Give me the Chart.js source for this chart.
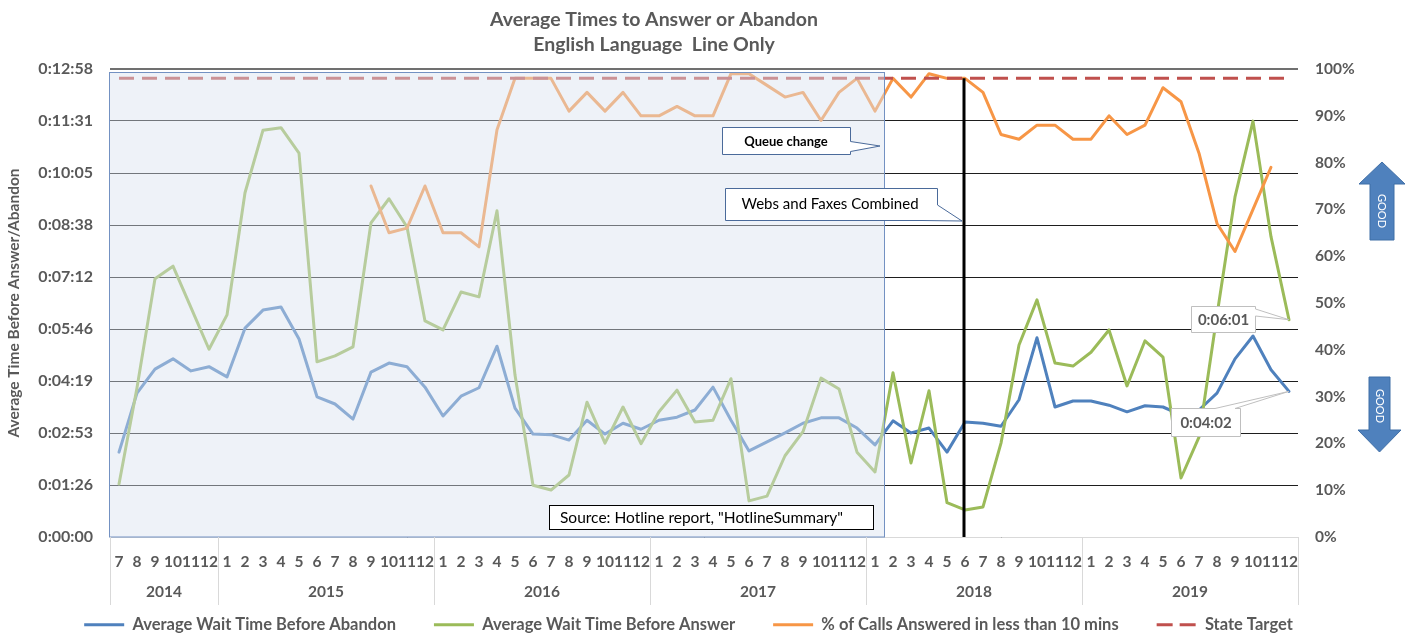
<!DOCTYPE html>
<html><head><meta charset="utf-8">
<script src="https://cdn.jsdelivr.net/npm/chart.js@4/dist/chart.umd.min.js"></script>
<style>html,body{margin:0;padding:0;background:#fff;}#wrap{width:1409px;height:637px;}</style>
</head><body><div id="wrap"><canvas id="c" width="1409" height="637"></canvas></div>
<script>
// ---------------- data ----------------
const monthLabels = ['7','8','9','10','11','12',
  '1','2','3','4','5','6','7','8','9','10','11','12',
  '1','2','3','4','5','6','7','8','9','10','11','12',
  '1','2','3','4','5','6','7','8','9','10','11','12',
  '1','2','3','4','5','6','7','8','9','10','11','12',
  '1','2','3','4','5','6','7','8','9','10','11','12'];
const yearLabels = ['2014','2015','2016','2017','2018','2019'];
const monthsPerYear = [6,12,12,12,12,12];

// seconds
const waitBeforeAbandon = [141,239,279,296,276,283,266,347,377,382,
  329,233,221,196,274,289,283,249,201,234,
  248,317,214,171,170,161,194,171,189,179,
  194,199,211,249,194,143,158,173,189,198,
  198,181,153,193,173,181,141,191,189,184,
  228,331,216,226,226,219,208,218,216,203,
  211,239,296,334,278,242];
const waitBeforeAnswer = [88,248,429,450,381,312,369,572,676,680,
  638,291,301,316,522,562,515,359,344,407,
  399,542,269,86,78,103,224,156,216,155,
  208,244,191,194,263,60,68,135,175,264,
  246,141,108,273,123,243,57,45,50,156,
  319,394,289,284,307,344,251,326,299,98,
  166,369,565,691,499,361];
// percent
const pctUnder10 = [null,null,null,null,null,null,null,null,null,null,
  null,null,null,null,75,65,66,75,65,65,
  62,87,98,98,98,91,95,91,95,90,
  90,92,90,90,99,99,96.5,94,95,89,
  95,98,91,98,94,99,98,98,95,86,
  85,88,88,85,85,90,86,88,96,93,
  82,67,61,70,79,null];
const stateTarget = [98,98,98,98,98,98,98,98,98,98,98,98,98,98,98,98,98,98,98,98,98,98,
  98,98,98,98,98,98,98,98,98,98,98,98,98,98,98,98,98,98,98,98,98,98,
  98,98,98,98,98,98,98,98,98,98,98,98,98,98,98,98,98,98,98,98,98,98];

const leftTicks = [0,86.4,172.8,259.2,345.6,432,518.4,604.8,691.2,777.6];
const titleLines = ['Average Times to Answer or Abandon','English Language  Line Only'];
const yTitle = 'Average Time Before Answer/Abandon';
const FONT = 'Lato';
const GREY = '#595959';

function fmtTime(s){
  s = Math.round(s);
  const h = Math.floor(s/3600), m = Math.floor((s%3600)/60), sec = s%60;
  return h + ':' + String(m).padStart(2,'0') + ':' + String(sec).padStart(2,'0');
}

function callout(ctx, pts, fill, stroke){
  ctx.beginPath();
  ctx.moveTo(pts[0][0], pts[0][1]);
  for (let i=1;i<pts.length;i++) ctx.lineTo(pts[i][0], pts[i][1]);
  ctx.closePath();
  ctx.fillStyle = fill; ctx.fill();
  ctx.strokeStyle = stroke; ctx.lineWidth = 1; ctx.stroke();
}

const decor = {
  id: 'decor',
  afterDatasetsDraw(chart){
    const {ctx, chartArea: ca, scales: {x, y, y1}} = chart;
    ctx.save();
    // shaded overlay box (older period)
    const xr = Math.round(x.getPixelForValue(42.5)) + 0.5;
    const bx = ca.left - 0.5, by = ca.top + 3.5;
    ctx.fillStyle = 'rgba(218,227,240,0.45)';
    ctx.fillRect(bx, by, xr - bx, ca.bottom - by);
    ctx.strokeStyle = '#7391c2'; ctx.lineWidth = 1;
    ctx.strokeRect(bx, by, xr - bx, ca.bottom - by);

    // vertical black line at 2018-6
    const xv = x.getPixelForValue(47) - 1;
    ctx.beginPath(); ctx.moveTo(xv, y1.getPixelForValue(98)); ctx.lineTo(xv, ca.bottom);
    ctx.strokeStyle = '#000'; ctx.lineWidth = 3; ctx.stroke();

    // callout: Queue change
    callout(ctx, [[722.5,127.5],[850.5,127.5],[850.5,141.5],[880,146],[850.5,151.5],[850.5,154.5],[722.5,154.5]], '#fff', '#4a6a9a');
    ctx.fillStyle = '#000'; ctx.font = 'bold 13px ' + FONT; ctx.textAlign = 'center'; ctx.textBaseline = 'middle';
    ctx.fillText('Queue change', 786, 142);
    // callout: Webs and Faxes Combined
    callout(ctx, [[725.5,188.5],[937.5,188.5],[937.5,205],[962,221],[922,220.5],[725.5,220.5]], '#fff', '#4a6a9a');
    ctx.fillStyle = '#000'; ctx.font = '15px ' + FONT;
    ctx.fillText('Webs and Faxes Combined', 830, 204.5);

    // source box
    ctx.fillStyle = '#fff'; ctx.fillRect(549.5, 505.5, 324, 24);
    ctx.strokeStyle = '#000'; ctx.lineWidth = 1; ctx.strokeRect(549.5, 505.5, 324, 24);
    ctx.fillStyle = '#000'; ctx.font = '15.5px ' + FONT; ctx.textAlign = 'left';
    ctx.fillText('Source: Hotline report, "HotlineSummary"', 560, 518);

    // data labels of last points
    const last = monthLabels.length - 1;
    const px = x.getPixelForValue(last);
    const gy = y.getPixelForValue(waitBeforeAnswer[last]);
    const by2 = y.getPixelForValue(waitBeforeAbandon[last]);
    callout(ctx, [[1191.5,306.5],[1255.5,306.5],[1255.5,309],[px,gy],[1255.5,316],[1255.5,332.5],[1191.5,332.5]], '#fff', '#bfbfbf');
    callout(ctx, [[1171.5,408.5],[1215,408.5],[px,by2],[1235,408.5],[1240.5,408.5],[1240.5,436.5],[1171.5,436.5]], '#fff', '#bfbfbf');
    ctx.fillStyle = GREY; ctx.font = 'bold 15px ' + FONT; ctx.textAlign = 'center';
    ctx.fillText(fmtTime(waitBeforeAnswer[last]), 1223.5, 320);
    ctx.fillText(fmtTime(waitBeforeAbandon[last]), 1206, 423);

    ctx.restore();
  },
  afterDraw(chart){
    const {ctx, chartArea: ca, scales: {x}} = chart;
    ctx.save();
    // title
    ctx.fillStyle = GREY; ctx.textAlign = 'center'; ctx.textBaseline = 'middle';
    ctx.font = 'bold 19.5px ' + FONT;
    ctx.fillText(titleLines[0], 654, 20);
    ctx.fillText(titleLines[1], 654, 45);

    // year separators and labels
    ctx.strokeStyle = '#d9d9d9'; ctx.lineWidth = 1;
    let start = 0;
    const bounds = [];
    monthsPerYear.forEach(n => { bounds.push([start, start + n - 1]); start += n; });
    const edges = [Math.round(x.getPixelForValue(-0.5)) + 0.5];
    bounds.forEach(b => edges.push(Math.round(x.getPixelForValue(b[1] + 0.5)) + 0.5));
    edges.forEach(e => { ctx.beginPath(); ctx.moveTo(e, ca.bottom); ctx.lineTo(e, 605); ctx.stroke(); });
    ctx.font = 'bold 15.5px ' + FONT; ctx.fillStyle = GREY;
    bounds.forEach((b, i) => {
      const cx = (x.getPixelForValue(b[0] - 0.5) + x.getPixelForValue(b[1] + 0.5)) / 2;
      ctx.fillText(yearLabels[i], cx, 592);
    });

    // GOOD arrows
    ctx.fillStyle = '#4f81bd'; ctx.strokeStyle = '#3f6ea6'; ctx.lineWidth = 1;
    ctx.beginPath();
    ctx.moveTo(1382, 162); ctx.lineTo(1405, 184); ctx.lineTo(1394, 184); ctx.lineTo(1394, 240);
    ctx.lineTo(1370, 240); ctx.lineTo(1370, 184); ctx.lineTo(1359, 184); ctx.closePath();
    ctx.fill(); ctx.stroke();
    ctx.beginPath();
    ctx.moveTo(1369, 377); ctx.lineTo(1390, 377); ctx.lineTo(1390, 430); ctx.lineTo(1401, 430);
    ctx.lineTo(1379.5, 452); ctx.lineTo(1358, 430); ctx.lineTo(1369, 430); ctx.closePath();
    ctx.fill(); ctx.stroke();
    ctx.fillStyle = '#fff'; ctx.font = '11px ' + FONT;
    ctx.save(); ctx.translate(1382, 211); ctx.rotate(Math.PI/2); ctx.fillText('GOOD', 0, 0); ctx.restore();
    ctx.save(); ctx.translate(1379.5, 406); ctx.rotate(Math.PI/2); ctx.fillText('GOOD', 0, 0); ctx.restore();
    ctx.restore();
  }
};

const tickFont = {family: FONT, weight: 'bold', size: 15.5};

new Chart(document.getElementById('c'), {
  type: 'line',
  data: {
    labels: monthLabels,
    datasets: [
      {label: 'Average Wait Time Before Abandon', data: waitBeforeAbandon, yAxisID: 'y',
       borderColor: '#4f81bd', backgroundColor: '#4f81bd', borderWidth: 3, order: 4},
      {label: 'Average Wait Time Before Answer', data: waitBeforeAnswer, yAxisID: 'y',
       borderColor: '#9bbb59', backgroundColor: '#9bbb59', borderWidth: 3, order: 3},
      {label: '% of Calls Answered in less than 10 mins', data: pctUnder10, yAxisID: 'y1',
       borderColor: '#f79646', backgroundColor: '#f79646', borderWidth: 3, order: 2},
      {label: 'State Target', data: stateTarget, yAxisID: 'y1',
       borderColor: '#c0504d', backgroundColor: '#c0504d', borderWidth: 3, borderDash: [15, 8],
       borderCapStyle: 'butt', order: 1}
    ]
  },
  options: {
    responsive: false,
    animation: false,
    devicePixelRatio: 1,
    elements: {
      point: {radius: 0, hoverRadius: 0},
      line: {tension: 0, borderJoinStyle: 'round', borderCapStyle: 'round'}
    },
    layout: {padding: {top: 69, right: 32, left: 0, bottom: -6}},
    plugins: {
      title: {display: false},
      tooltip: {enabled: false},
      legend: {
        position: 'bottom',
        labels: {
          usePointStyle: true, pointStyle: 'line', pointStyleWidth: 40,
          font: {family: FONT, weight: 'bold', size: 16.5}, color: GREY, padding: 38,
          sort: (a, b) => a.datasetIndex - b.datasetIndex,
          generateLabels: (chart) => {
            const items = Chart.defaults.plugins.legend.labels.generateLabels(chart);
            items.forEach(it => {
              const ds = chart.data.datasets[it.datasetIndex];
              it.strokeStyle = ds.borderColor;
              it.fillStyle = ds.borderColor;
              it.lineWidth = 3;
              it.lineCap = 'butt';
              it.lineDash = ds.borderDash ? [16, 7] : [];
            });
            return items;
          }
        }
      }
    },
    scales: {
      x: {
        type: 'category', offset: true,
        grid: {display: false, drawTicks: false},
        border: {display: true, color: '#d9d9d9'},
        ticks: {autoSkip: false, maxRotation: 0, minRotation: 0, font: tickFont, color: GREY, padding: 16},
        afterFit: s => { s.height = 41.5; }
      },
      y: {
        position: 'left', min: 0, max: 777.6,
        afterBuildTicks: s => { s.ticks = leftTicks.map(v => ({value: v})); },
        ticks: {callback: v => fmtTime(v), font: {family: FONT, weight: 'bold', size: 16}, color: GREY, padding: 17},
        grid: {drawTicks: false, color: ctx => ctx.index === leftTicks.length - 1 ? '#707070' : '#1e1e1e',
               lineWidth: ctx => ctx.index === leftTicks.length - 1 ? 2 : 1},
        border: {display: false},
        title: {display: true, text: yTitle, font: {family: FONT, weight: 'bold', size: 15.5}, color: GREY, padding: {top: 5, bottom: 0}},
        afterFit: s => { s.width = 110; }
      },
      y1: {
        position: 'right', min: 0, max: 100,
        ticks: {stepSize: 10, callback: v => v + '%', font: {family: FONT, weight: 'bold', size: 15.5}, color: GREY, padding: 17},
        grid: {display: false, drawTicks: false},
        border: {display: false},
        afterFit: s => { s.width = 79; }
      }
    }
  },
  plugins: [decor]
});
</script>
</body></html>
